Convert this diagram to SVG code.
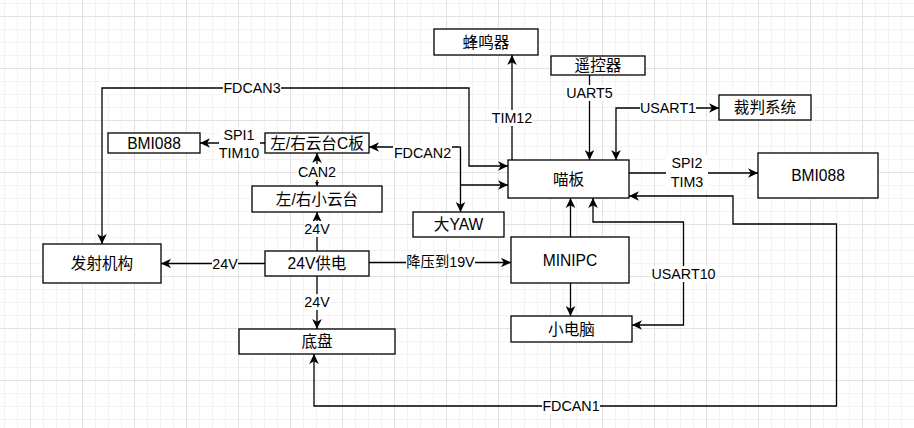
<svg xmlns="http://www.w3.org/2000/svg" width="914" height="428" viewBox="0 0 914 428">
<defs>
<pattern id="grid" patternUnits="userSpaceOnUse" x="30" y="16" width="52" height="52">
<rect x="13" y="0" width="1" height="52" fill="#f3f3f3"/>
<rect x="26" y="0" width="1" height="52" fill="#f3f3f3"/>
<rect x="39" y="0" width="1" height="52" fill="#f3f3f3"/>
<rect x="0" y="13" width="52" height="1" fill="#f3f3f3"/>
<rect x="0" y="26" width="52" height="1" fill="#f3f3f3"/>
<rect x="0" y="39" width="52" height="1" fill="#f3f3f3"/>
<rect x="0" y="0" width="1" height="52" fill="#e2e2e2"/>
<rect x="0" y="0" width="52" height="1" fill="#e2e2e2"/>
</pattern>
<marker id="arr" markerUnits="userSpaceOnUse" markerWidth="12" markerHeight="12" viewBox="0 0 12 12" refX="11" refY="6" orient="auto-start-reverse">
<path d="M1,1.2 L11,6 L1,10.8 L3.8,6 Z" fill="#000"/>
</marker>
<marker id="sm" markerUnits="userSpaceOnUse" markerWidth="6" markerHeight="6" viewBox="0 0 6 6" refX="5" refY="3" orient="auto-start-reverse">
<path d="M1,1 L5,3 L1,5 Z" fill="#000"/>
</marker>
</defs>
<style>
.n rect{fill:#fff;stroke:#000;stroke-width:1.3}
.n text{font-family:"Liberation Sans","Noto Sans CJK SC",sans-serif;font-size:15.6px;fill:#000;text-anchor:middle;dominant-baseline:central}
.e path{fill:none;stroke:#000;stroke-width:1.3}
.lb{fill:#fff}
.lt{font-family:"Liberation Sans","Noto Sans CJK SC",sans-serif;font-size:14.3px;fill:#000;text-anchor:middle;dominant-baseline:central}
</style>
<rect width="914" height="428" fill="#fff"/>
<rect width="914" height="428" fill="url(#grid)"/>

<g id="connectors" class="e">
<path d="M102,244 L102,88 L469,88 L469,166 L508,166" marker-start="url(#arr)" marker-end="url(#arr)"/>
<path d="M265,143 L200,143" marker-end="url(#arr)"/>
<path d="M460.5,147 L369,147" marker-end="url(#arr)"/>
<path d="M460.5,147 L460.5,212" marker-end="url(#arr)"/>
<path d="M460.5,185 L508,185" marker-end="url(#arr)"/>
<path d="M317,186 L317,153" marker-start="url(#sm)" marker-end="url(#arr)"/>
<path d="M512,160 L512,55" marker-end="url(#arr)"/>
<path d="M589.5,75 L589.5,160" marker-end="url(#arr)"/>
<path d="M616,160 L616,108 L719,108" marker-start="url(#arr)" marker-end="url(#arr)"/>
<path d="M629,173 L758,173" marker-end="url(#arr)"/>
<path d="M265,263.5 L161,263.5" marker-end="url(#arr)"/>
<path d="M317,251 L317,212" marker-end="url(#arr)"/>
<path d="M317,276 L317,329" marker-end="url(#arr)"/>
<path d="M369,262.5 L511,262.5" marker-end="url(#arr)"/>
<path d="M570.5,237 L570.5,198" marker-end="url(#arr)"/>
<path d="M570.5,283 L570.5,316" marker-end="url(#arr)"/>
<path d="M632,325 L683.5,325 L683.5,222 L593,222 L593,198" marker-start="url(#arr)" marker-end="url(#arr)"/>
<path d="M629,196 L733,196 L733,224 L836.5,224 L836.5,406 L314,406 L314,354" marker-start="url(#arr)" marker-end="url(#arr)"/>

<rect class="lb" x="223" y="80" width="58" height="16"/>
<text class="lt" x="252" y="88">FDCAN3</text>
<rect class="lb" x="219" y="127" width="41" height="34"/>
<text class="lt" x="239" y="135">SPI1</text>
<text class="lt" x="239" y="153">TIM10</text>
<rect class="lb" x="393" y="145" width="59" height="16"/>
<text class="lt" x="422.5" y="153">FDCAN2</text>
<rect class="lb" x="298" y="164" width="38" height="16"/>
<text class="lt" x="317" y="172">CAN2</text>
<rect class="lb" x="492" y="110" width="40" height="16"/>
<text class="lt" x="512" y="118">TIM12</text>
<rect class="lb" x="566" y="85" width="47" height="16"/>
<text class="lt" x="589.5" y="93">UART5</text>
<rect class="lb" x="640" y="100" width="56" height="16"/>
<text class="lt" x="668" y="108">USART1</text>
<rect class="lb" x="666" y="155" width="42" height="35"/>
<text class="lt" x="687" y="163">SPI2</text>
<text class="lt" x="687" y="182">TIM3</text>
<rect class="lb" x="212" y="255.5" width="26" height="16"/>
<text class="lt" x="225" y="263.5">24V</text>
<rect class="lb" x="304" y="221" width="26" height="16"/>
<text class="lt" x="317" y="229">24V</text>
<rect class="lb" x="304" y="294" width="26" height="16"/>
<text class="lt" x="317" y="302">24V</text>
<rect class="lb" x="406" y="254" width="69" height="16"/>
<text class="lt" x="440.5" y="262">降压到19V</text>
<rect class="lb" x="651" y="266" width="65" height="16"/>
<text class="lt" x="683.5" y="274">USART10</text>
<rect class="lb" x="542" y="398" width="58" height="16"/>
<text class="lt" x="571" y="406">FDCAN1</text>
</g>

<g id="buzzer" class="n"><rect x="434" y="29" width="104" height="26"/><text x="486" y="42">蜂鸣器</text></g>
<g id="remote" class="n"><rect x="551" y="56" width="94" height="19"/><text x="598" y="65.5">遥控器</text></g>
<g id="referee" class="n"><rect x="719" y="95" width="92" height="25"/><text x="765" y="107.5">裁判系统</text></g>
<g id="bmi088-left" class="n"><rect x="108" y="133" width="92" height="20"/><text x="154" y="143">BMI088</text></g>
<g id="c-board" class="n"><rect x="265" y="133" width="104" height="20"/><text x="317" y="143">左/右云台C板</text></g>
<g id="small-gimbal" class="n"><rect x="252" y="186" width="130" height="26"/><text x="317" y="199">左/右小云台</text></g>
<g id="miaoban" class="n"><rect x="508" y="160" width="121" height="38"/><text x="568.5" y="179">喵板</text></g>
<g id="bmi088-right" class="n"><rect x="758" y="153" width="120" height="45"/><text x="818" y="175.5">BMI088</text></g>
<g id="big-yaw" class="n"><rect x="413" y="212" width="91" height="25"/><text x="458.5" y="224.5">大YAW</text></g>
<g id="shooter" class="n"><rect x="43" y="244" width="118" height="39"/><text x="102" y="263.5">发射机构</text></g>
<g id="power" class="n"><rect x="265" y="251" width="104" height="25"/><text x="317" y="263.5">24V供电</text></g>
<g id="minipc" class="n"><rect x="511" y="237" width="118" height="46"/><text x="570" y="260">MINIPC</text></g>
<g id="small-pc" class="n"><rect x="511" y="316" width="121" height="26"/><text x="571.5" y="329">小电脑</text></g>
<g id="chassis" class="n"><rect x="239" y="329" width="156" height="25"/><text x="317" y="341.5">底盘</text></g>
</svg>
